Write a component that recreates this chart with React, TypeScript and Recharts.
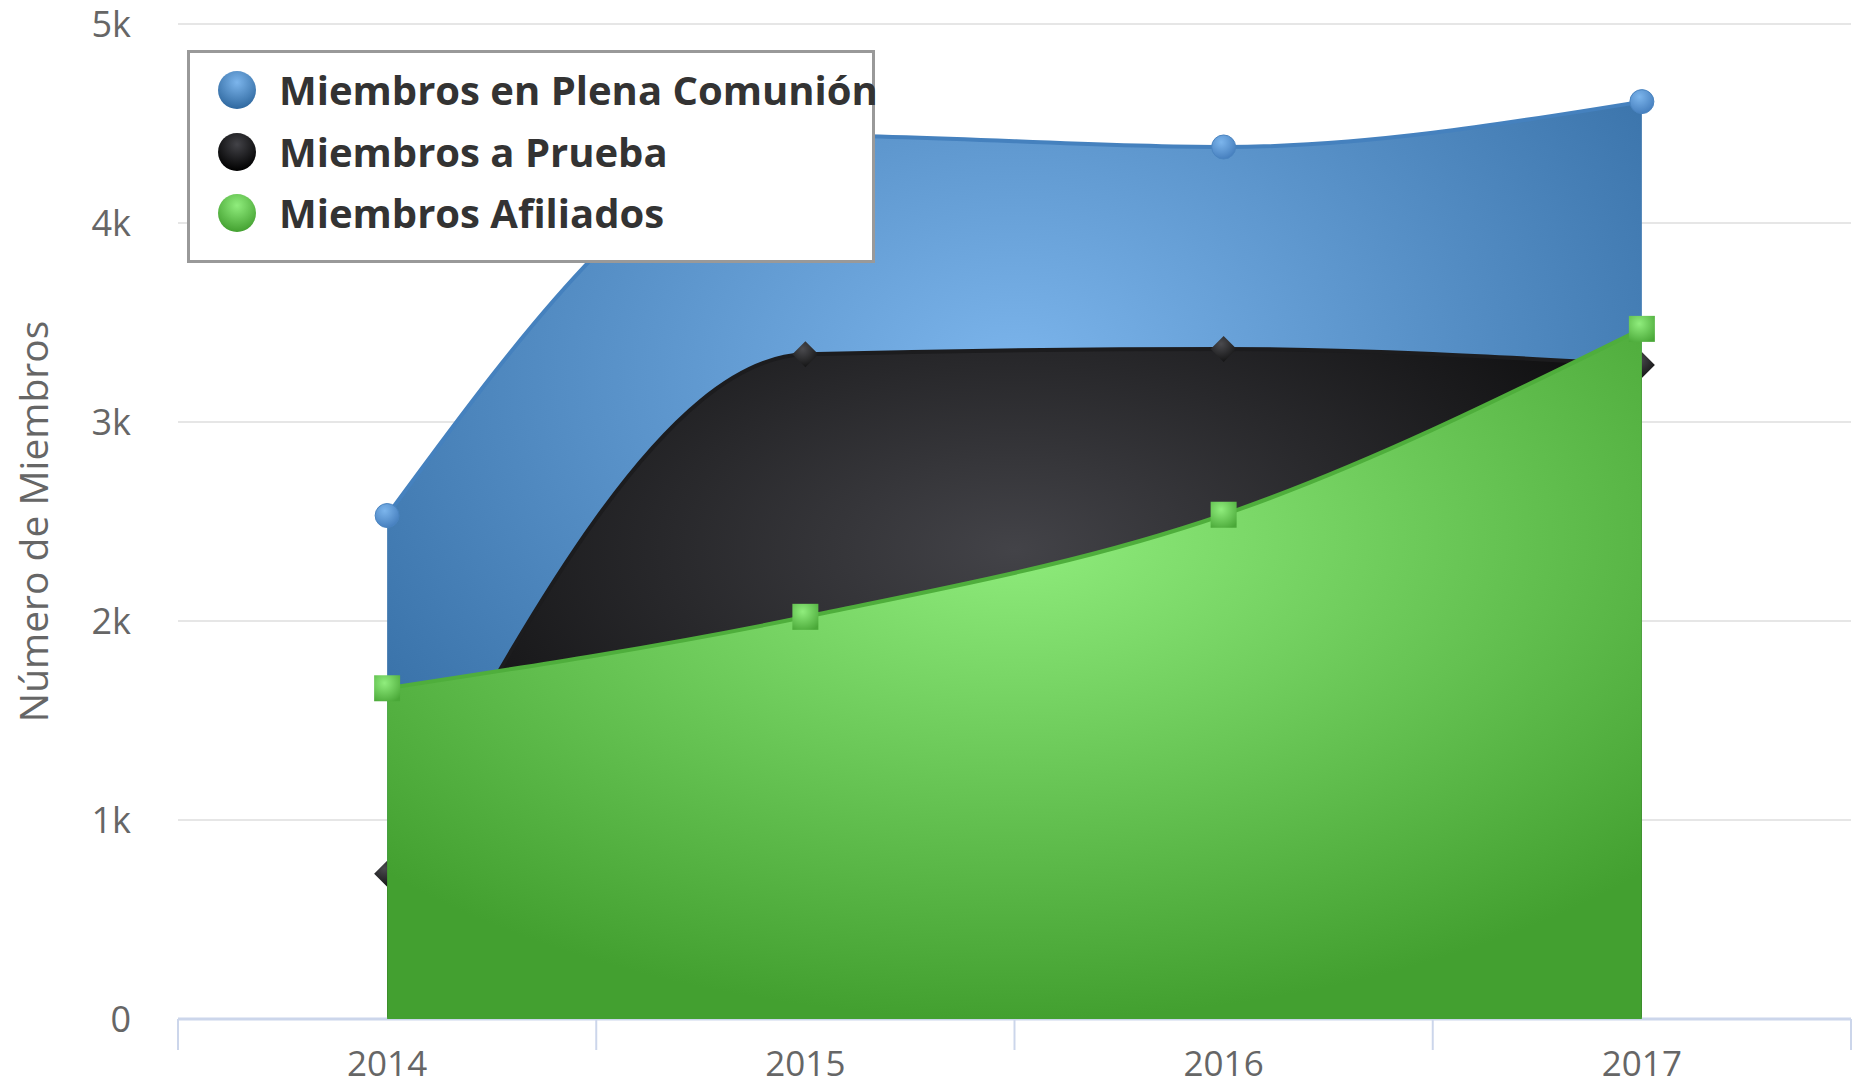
import React from 'react';
import { ComposedChart, Area, Scatter, XAxis, YAxis, CartesianGrid, Legend } from 'recharts';

const years = ['2014', '2015', '2016', '2017'];
const plenaComunion = [2530, 4440, 4382, 4610];
const aPrueba = [730, 3340, 3367, 3286];
const afiliados = [1662, 2021, 2534, 3468];
const seriesNames = ['Miembros en Plena Comunión', 'Miembros a Prueba', 'Miembros Afiliados'];
const yTicks = [0, 1000, 2000, 3000, 4000, 5000];
const yTitle = 'Número de Miembros';

const data = years.map((y, i) => ({
  year: y,
  plena: plenaComunion[i],
  prueba: aPrueba[i],
  afiliados: afiliados[i],
}));

const W = 1860;
const H = 1086;
const M = { top: 24, right: 9, left: 0, bottom: 0 };
const Y_AXIS_W = 178;
const X_AXIS_H = 67;
const PLOT_LEFT = M.left + Y_AXIS_W;
const PLOT_RIGHT = W - M.right;
const PLOT_BOTTOM = H - M.bottom - X_AXIS_H;
const BAND = (PLOT_RIGHT - PLOT_LEFT) / years.length;
const FONT = '"Open Sans", "DejaVu Sans", sans-serif';

const grads = [
  { id: 'gBlue', c0: '#7cb5ec', c1: '#2f689f' },
  { id: 'gBlack', c0: '#434348', c1: '#000000' },
  { id: 'gGreen', c0: '#90ed7d', c1: '#43a030' },
];
const lineColors = ['#4581be', '#1c1c1e', '#4fae3c'];

const CircleDot = (props: any) => {
  const { cx, cy, index } = props;
  if (cx == null || cy == null) return <g key={`c-${index}`} />;
  return <circle key={`c-${index}`} cx={cx} cy={cy} r={12} fill="url(#mBlue)" stroke="#4a84c0" strokeWidth={1} />;
};
const DiamondDot = (props: any) => {
  const { cx, cy, index } = props;
  if (cx == null || cy == null) return <g key={`d-${index}`} />;
  const s = 13;
  return (
    <path
      key={`d-${index}`}
      d={`M${cx},${cy - s}L${cx + s},${cy}L${cx},${cy + s}L${cx - s},${cy}Z`}
      fill="url(#mBlack)"
    />
  );
};
const SquareShape = (props: any) => {
  const { cx, cy } = props;
  if (cx == null || cy == null) return <g />;
  const s = 13;
  return <rect x={cx - s} y={cy - s} width={2 * s} height={2 * s} fill="url(#mGreen)" />;
};

const XTick = (props: any) => {
  const { x, payload, index } = props;
  const left = x - BAND / 2;
  const right = x + BAND / 2;
  const last = index === years.length - 1;
  return (
    <g>
      <line x1={left} x2={left} y1={PLOT_BOTTOM} y2={PLOT_BOTTOM + 31} stroke="#ccd6eb" strokeWidth={2} />
      {last && <line x1={right} x2={right} y1={PLOT_BOTTOM} y2={PLOT_BOTTOM + 31} stroke="#ccd6eb" strokeWidth={2} />}
      <text x={x} y={PLOT_BOTTOM + 57} textAnchor="middle" fontSize={35} fontFamily={FONT} fill="#666666">
        {payload.value}
      </text>
    </g>
  );
};

const legendGrads = ['lgBlue', 'lgBlack', 'lgGreen'];

const LegendContent = () => (
  <div
    style={{
      width: 688,
      height: 213,
      border: '3px solid #999999',
      background: '#ffffff',
      boxSizing: 'border-box',
      position: 'relative',
      fontFamily: FONT,
    }}
  >
    {seriesNames.map((n, i) => (
      <div key={n} style={{ position: 'absolute', left: 0, top: 37 + i * 61.5, height: 0, width: '100%' }}>
        <svg width={40} height={40} style={{ position: 'absolute', left: 27, top: -20 }}>
          <defs>
            <radialGradient id={legendGrads[i]} cx="0.5" cy="0.3" r="0.7">
              <stop offset="0" stopColor={grads[i].c0} />
              <stop offset="1" stopColor={grads[i].c1} />
            </radialGradient>
          </defs>
          <circle cx={20} cy={20} r={19} fill={`url(#${legendGrads[i]})`} />
        </svg>
        <span
          style={{
            position: 'absolute',
            left: 89,
            top: -30,
            fontSize: 40,
            fontWeight: 'bold',
            color: '#333333',
            whiteSpace: 'nowrap',
            lineHeight: '60px',
          }}
        >
          {n}
        </span>
      </div>
    ))}
  </div>
);

const renderYTitle = (props: any) => {
  const vb = props.viewBox || {};
  const cx = 32;
  const cy = (vb.y ?? M.top) + (vb.height ?? PLOT_BOTTOM - M.top) / 2;
  return (
    <text
      x={cx}
      y={cy}
      transform={`rotate(-90 ${cx} ${cy})`}
      textAnchor="middle"
      dominantBaseline="central"
      fontSize={39}
      fontFamily={FONT}
      fill="#666666"
    >
      {yTitle}
    </text>
  );
};

export default function App() {
  return (
    <div style={{ position: 'absolute', left: 0, top: 0, width: W, height: H, background: '#ffffff' }}>
      <ComposedChart width={W} height={H} data={data} margin={M}>
        <defs>
          {grads.map((g) => (
            <radialGradient key={g.id} id={g.id} cx="0.5" cy="0.3" r="0.7">
              <stop offset="0" stopColor={g.c0} />
              <stop offset="1" stopColor={g.c1} />
            </radialGradient>
          ))}
          <radialGradient id="mBlue" cx="0.4" cy="0.3" r="0.8">
            <stop offset="0" stopColor="#7cb5ec" />
            <stop offset="1" stopColor="#3f78b8" />
          </radialGradient>
          <radialGradient id="mBlack" cx="0.4" cy="0.3" r="0.8">
            <stop offset="0" stopColor="#4a4a4e" />
            <stop offset="1" stopColor="#0d0d0d" />
          </radialGradient>
          <radialGradient id="mGreen" cx="0.4" cy="0.3" r="0.8">
            <stop offset="0" stopColor="#90ed7d" />
            <stop offset="1" stopColor="#4aa838" />
          </radialGradient>
        </defs>
        <CartesianGrid vertical={false} stroke="#e6e6e6" strokeWidth={2} />
        <XAxis
          dataKey="year"
          scale="band"
          height={X_AXIS_H}
          axisLine={{ stroke: '#ccd6eb', strokeWidth: 3 }}
          tickLine={false}
          tick={<XTick />}
          interval={0}
        />
        <YAxis
          width={Y_AXIS_W}
          domain={[0, 5000]}
          ticks={yTicks}
          tickFormatter={(v: number) => (v === 0 ? '0' : `${v / 1000}k`)}
          axisLine={false}
          tickLine={false}
          tickSize={0}
          tickMargin={47}
          tick={{ fontSize: 36, fill: '#666666', fontFamily: FONT }}
          label={renderYTitle}
        />
        <Legend
          layout="vertical"
          align="center"
          verticalAlign="middle"
          wrapperStyle={{ left: 187, top: 50, width: 688, height: 213 }}
          content={<LegendContent />}
        />
        <Area
          type="monotone"
          dataKey="plena"
          name={seriesNames[0]}
          stroke={lineColors[0]}
          strokeWidth={4}
          fill="url(#gBlue)"
          fillOpacity={1}
          dot={CircleDot}
          activeDot={false}
          isAnimationActive={false}
        />
        <Area
          type="monotone"
          dataKey="prueba"
          name={seriesNames[1]}
          stroke={lineColors[1]}
          strokeWidth={4}
          fill="url(#gBlack)"
          fillOpacity={1}
          dot={DiamondDot}
          activeDot={false}
          isAnimationActive={false}
        />
        <Area
          type="monotone"
          dataKey="afiliados"
          name={seriesNames[2]}
          stroke={lineColors[2]}
          strokeWidth={4}
          fill="url(#gGreen)"
          fillOpacity={1}
          dot={false}
          activeDot={false}
          isAnimationActive={false}
          {...({ zIndex: 650 } as any)}
        />
        <Scatter
          dataKey="afiliados"
          name={seriesNames[2]}
          shape={SquareShape}
          legendType="none"
          isAnimationActive={false}
          {...({ zIndex: 700 } as any)}
        />
      </ComposedChart>
    </div>
  );
}
